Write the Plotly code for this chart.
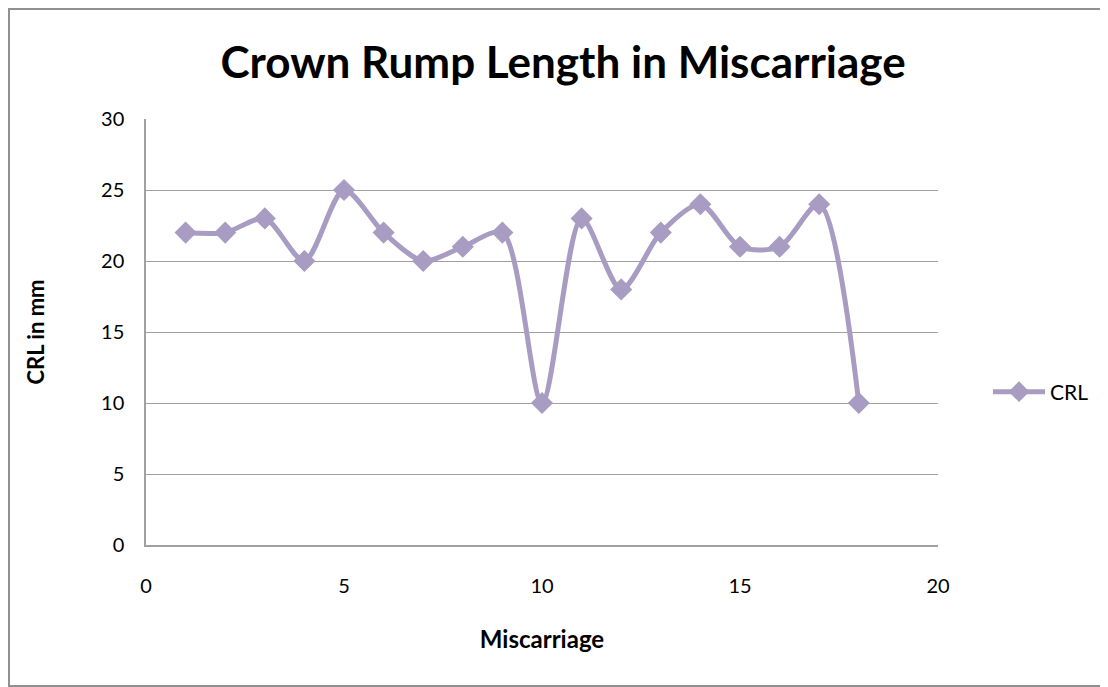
import plotly.graph_objects as go

miscarriage = list(range(1, 19))
crl = [22, 22, 23, 20, 25, 22, 20, 21, 22, 10, 23, 18, 22, 24, 21, 21, 24, 10]

FONT = "Lato"
color = "#A89CC2"

W, H = 1108, 679
L, R, T, B = 138, 178, 111, 142
PW, PH = W - L - R, H - T - B

fig = go.Figure()
fig.add_trace(go.Scatter(
    x=miscarriage, y=crl, mode="lines+markers", name="CRL",
    line=dict(color=color, width=5, shape="spline", smoothing=0.8),
    marker=dict(symbol="diamond", size=17, color=color),
))

fig.update_layout(
    width=W, height=H,
    margin=dict(l=L, r=R, t=T, b=B),
    paper_bgcolor="white", plot_bgcolor="white",
    font=dict(family=FONT, color="black", size=20),
    title=dict(text="<b>Crown Rump Length in Miscarriage</b>", x=0.501, xanchor="center",
               y=0.92, yanchor="middle", font=dict(size=44, family=FONT)),
    xaxis=dict(range=[0, 20], dtick=5, showgrid=False, showline=True, linecolor="#A0A0A0",
               linewidth=1.5, ticks="", zeroline=False, tickfont=dict(size=20),
               ticklabelstandoff=22,
               title=dict(text="<b>Miscarriage</b>", font=dict(size=24), standoff=35)),
    yaxis=dict(range=[0, 30], dtick=5, showgrid=True, gridcolor="#A0A0A0", gridwidth=1.2,
               showline=True, linecolor="#A0A0A0", linewidth=1.5, ticks="", zeroline=False,
               tickfont=dict(size=20), ticklabelstandoff=16,
               title=dict(text="<b>CRL in mm</b>", font=dict(size=22), standoff=50)),
    legend=dict(x=(980 - L) / PW, y=(537 - 384) / PH, xanchor="left", yanchor="middle",
                font=dict(size=21), bgcolor="rgba(0,0,0,0)", itemwidth=52),
    showlegend=True,
    shapes=[dict(type="rect", xref="paper", yref="paper",
                 x0=(1 - L) / PW, x1=(W + 20 - L) / PW,
                 y0=-(H - 1 - (H - B)) / PH,
                 y1=(H - B - 1) / PH,
                 line=dict(color="#909090", width=2))],
)

fig.write_html("out.html")
